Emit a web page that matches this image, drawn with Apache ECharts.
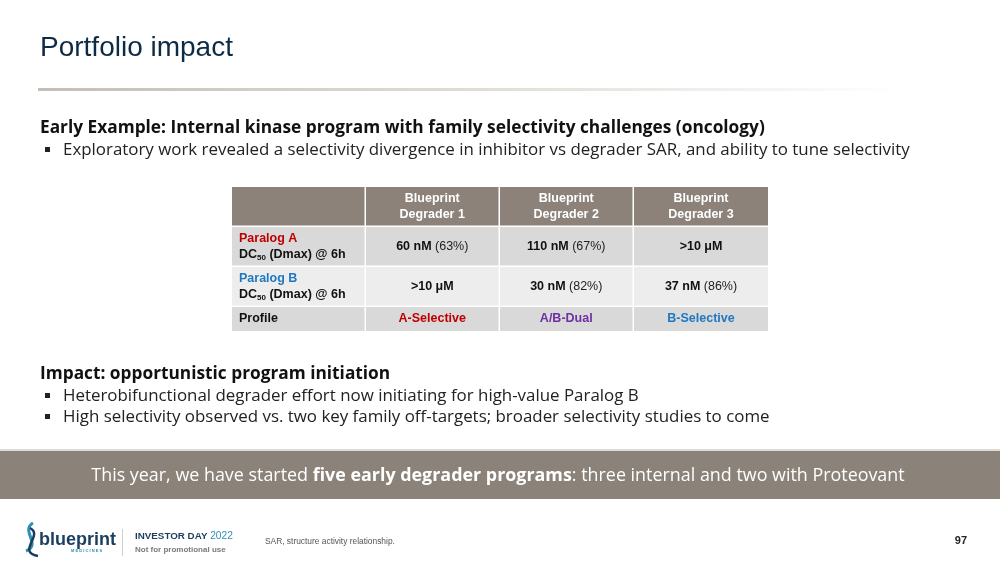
<!DOCTYPE html>
<html>
<head>
<meta charset="utf-8">
<script src="https://cdn.jsdelivr.net/npm/echarts@6/dist/echarts.min.js"></script>
<style>
  html, body { margin: 0; padding: 0; background: #ffffff; }
  #main { width: 1000px; height: 568px; }
</style>
</head>
<body>
<div id="main"></div>
<script>
// table data
const headers = ['', 'Blueprint\nDegrader 1', 'Blueprint\nDegrader 2', 'Blueprint\nDegrader 3'];
const rowNames = ['Paralog A', 'Paralog B', 'Profile'];
const paralogADc50 = ['60 nM', '110 nM', '>10 μM'];
const paralogADmax = ['63%', '67%', ''];
const paralogBDc50 = ['>10 μM', '30 nM', '37 nM'];
const paralogBDmax = ['', '82%', '86%'];
const profiles = ['A-Selective', 'A/B-Dual', 'B-Selective'];

// slide texts
const slideTitle = 'Portfolio impact';
const section1 = 'Early Example: Internal kinase program with family selectivity challenges (oncology)';
const section1Bullets = ['Exploratory work revealed a selectivity divergence in inhibitor vs degrader SAR, and ability to tune selectivity'];
const section2 = 'Impact: opportunistic program initiation';
const section2Bullets = [
  'Heterobifunctional degrader effort now initiating for high-value Paralog B',
  'High selectivity observed vs. two key family off-targets; broader selectivity studies to come'
];
const bannerParts = ['This year, we have started ', 'five early degrader programs', ': three internal and two with Proteovant'];
const footnote = 'SAR, structure activity relationship.';
const pageNo = '97';

// layout: row edges in row units (header, A, B, profile)
const rowEdges = [0, 1, 2, 3, 3.6];
const rowFills = ['#8c8279', '#d9d9d9', '#ededed', '#d9d9d9'];
const profileColors = ['#c00000', '#7030a0', '#1f78c1'];
const paralogColors = ['#c00000', '#1f78c1'];

const cells = [];
for (let r = 0; r < 4; r++) {
  for (let c = 0; c < 4; c++) cells.push([c, r]);
}

function cellText(c, r) {
  if (r === 0) return headers[c];
  if (c === 0) {
    if (r === 3) return '{lab|' + rowNames[2] + '}';
    return '{p' + r + '|' + rowNames[r - 1] + '}\n{lab|DC}{sub|50}{lab| (Dmax) @ 6h}';
  }
  if (r === 3) return '{pf' + c + '|' + profiles[c - 1] + '}';
  const dc = r === 1 ? paralogADc50[c - 1] : paralogBDc50[c - 1];
  const dm = r === 1 ? paralogADmax[c - 1] : paralogBDmax[c - 1];
  return dm ? '{b|' + dc + '}{n| (' + dm + ')}' : '{b|' + dc + '}';
}

const tf = 'Liberation Sans';
const cellRich = {
  lab: { fontFamily: tf, fontWeight: 'bold', fontSize: 12.5, fill: '#111', lineHeight: 16 },
  sub: { fontFamily: tf, fontWeight: 'bold', fontSize: 8, fill: '#111', lineHeight: 8, verticalAlign: 'bottom' },
  p1: { fontFamily: tf, fontWeight: 'bold', fontSize: 12.5, fill: paralogColors[0], lineHeight: 16 },
  p2: { fontFamily: tf, fontWeight: 'bold', fontSize: 12.5, fill: paralogColors[1], lineHeight: 16 },
  b: { fontFamily: tf, fontWeight: 'bold', fontSize: 12.5, fill: '#111' },
  n: { fontFamily: tf, fontSize: 12.5, fill: '#222' },
  pf1: { fontFamily: tf, fontWeight: 'bold', fontSize: 12.5, fill: profileColors[0] },
  pf2: { fontFamily: tf, fontWeight: 'bold', fontSize: 12.5, fill: profileColors[1] },
  pf3: { fontFamily: tf, fontWeight: 'bold', fontSize: 12.5, fill: profileColors[2] }
};

const bodyFont = '"Open Sans"';
const graphics = [];

// title + rule
graphics.push({ type: 'text', x: 40, y: 48, style: { text: slideTitle, font: '28px "Liberation Sans"', fill: '#0d2b45', verticalAlign: 'middle' } });
graphics.push({
  type: 'rect', shape: { x: 38, y: 88, width: 864, height: 3 },
  style: { fill: new echarts.graphic.LinearGradient(0, 0, 1, 0, [
    { offset: 0, color: '#c4beb5' }, { offset: 0.6, color: '#e6e2dc' }, { offset: 1, color: '#ffffff' }
  ]) }
});

function addSection(head, bullets, y0) {
  graphics.push({ type: 'text', x: 40, y: y0, style: { text: head, font: 'bold 17.3px ' + bodyFont, fill: '#111', verticalAlign: 'middle' } });
  bullets.forEach(function (t, i) {
    const y = y0 + 22 + i * 21;
    graphics.push({ type: 'rect', shape: { x: 45, y: y - 3, width: 5, height: 5 }, style: { fill: '#222' } });
    graphics.push({ type: 'text', x: 63, y: y, style: { text: t, font: '16.9px ' + bodyFont, fill: '#222', verticalAlign: 'middle' } });
  });
}
addSection(section1, section1Bullets, 128);
addSection(section2, section2Bullets, 374);

// banner
graphics.push({ type: 'rect', shape: { x: 0, y: 451, width: 1000, height: 48 }, style: { fill: '#8b8279' } });
graphics.push({ type: 'rect', shape: { x: 0, y: 449, width: 1000, height: 2 }, style: { fill: '#dedbd7' } });
graphics.push({
  type: 'text', x: 498, y: 476,
  style: {
    text: '{r|' + bannerParts[0] + '}{bb|' + bannerParts[1] + '}{r|' + bannerParts[2] + '}',
    align: 'center', verticalAlign: 'middle',
    rich: {
      r: { fontFamily: bodyFont, fontSize: 17.9, fill: '#ffffff' },
      bb: { fontFamily: bodyFont, fontSize: 17.9, fontWeight: 'bold', fill: '#ffffff' }
    }
  }
});

// footer logo
graphics.push({ type: 'bezierCurve', shape: { x1: 33, y1: 523, x2: 26, y2: 551, cpx1: 20, cpy1: 530, cpx2: 42, cpy2: 545 }, style: { stroke: '#2f8fb5', lineWidth: 3, fill: null } });
graphics.push({ type: 'bezierCurve', shape: { x1: 30, y1: 528, x2: 38, y2: 556, cpx1: 44, cpy1: 535, cpx2: 16, cpy2: 552 }, style: { stroke: '#1b3d5e', lineWidth: 2.5, fill: null } });
graphics.push({ type: 'text', x: 39, y: 540, style: { text: 'blueprint', font: 'bold 18px "Liberation Sans"', fill: '#1b3d5e', verticalAlign: 'middle' } });
graphics.push({ type: 'text', x: 71, y: 551, style: { text: 'M E D I C I N E S', font: 'bold 4px "Liberation Sans"', fill: '#2f8fb5', verticalAlign: 'middle' } });
graphics.push({ type: 'rect', shape: { x: 122, y: 529, width: 1, height: 27 }, style: { fill: '#cfcfcf' } });
graphics.push({
  type: 'text', x: 135, y: 536,
  style: {
    text: '{a|INVESTOR DAY }{y|2022}', verticalAlign: 'middle',
    rich: {
      a: { fontFamily: tf, fontWeight: 'bold', fontSize: 9.8, fill: '#1b3d5e' },
      y: { fontFamily: tf, fontSize: 10.2, fill: '#2f8fb5' }
    }
  }
});
graphics.push({ type: 'text', x: 135, y: 550, style: { text: 'Not for promotional use', font: 'bold 8px "Liberation Sans"', fill: '#7a7a7a', verticalAlign: 'middle' } });
graphics.push({ type: 'text', x: 265, y: 542, style: { text: footnote, font: '8.4px "Liberation Sans"', fill: '#555', verticalAlign: 'middle' } });
graphics.push({ type: 'text', x: 967, y: 541, style: { text: pageNo, font: 'bold 11px "Liberation Sans Narrow", "Liberation Sans"', fill: '#222', align: 'right', verticalAlign: 'middle' } });

const chart = echarts.init(document.getElementById('main'));
chart.setOption({
  backgroundColor: '#ffffff',
  animation: false,
  grid: { left: 232, top: 187, width: 536, height: 144 },
  xAxis: { type: 'value', min: 0, max: 4, show: false },
  yAxis: { type: 'value', min: 0, max: 3.6, inverse: true, show: false },
  graphic: graphics,
  series: [{
    type: 'custom',
    data: cells,
    renderItem: function (params, api) {
      const c = api.value(0), r = api.value(1);
      const p0 = api.coord([c, rowEdges[r]]);
      const p1 = api.coord([c + 1, rowEdges[r + 1]]);
      const gx = c < 3 ? 1.5 : 0;
      const gy = r < 3 ? 1.5 : 0;
      const w = p1[0] - p0[0] - gx;
      const h = p1[1] - p0[1] - gy;
      const isHead = r === 0;
      const leftAlign = c === 0 && !isHead;
      return {
        type: 'group',
        children: [
          { type: 'rect', shape: { x: p0[0], y: p0[1], width: w, height: h }, style: { fill: rowFills[r] } },
          {
            type: 'text',
            style: {
              text: cellText(c, r),
              x: leftAlign ? p0[0] + 7 : p0[0] + w / 2,
              y: p0[1] + h / 2,
              align: leftAlign ? 'left' : 'center',
              verticalAlign: 'middle',
              font: isHead ? 'bold 12.5px "Liberation Sans"' : '12.5px "Liberation Sans"',
              fill: isHead ? '#ffffff' : '#111',
              lineHeight: 16,
              rich: isHead ? undefined : cellRich
            }
          }
        ]
      };
    }
  }]
});
</script>
</body>
</html>
